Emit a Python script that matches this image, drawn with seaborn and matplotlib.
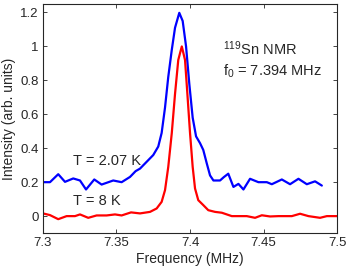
import numpy as np
import pandas as pd
import matplotlib
matplotlib.use("Agg")
import matplotlib.pyplot as plt
import seaborn as sns

freq_207K = [7.3000, 7.3048, 7.3104, 7.3150, 7.3206, 7.3252, 7.3293, 7.3349, 7.3399,
             7.3478, 7.3535, 7.3592, 7.3630, 7.3660, 7.3705, 7.3750, 7.3784, 7.3807,
             7.3830, 7.3852, 7.3876, 7.3898, 7.3927, 7.3950, 7.3973, 7.3995, 7.4018,
             7.4041, 7.4068, 7.4090, 7.4114, 7.4136, 7.4159, 7.4204, 7.4230, 7.4260,
             7.4295, 7.4329, 7.4363, 7.4408, 7.4465, 7.4522, 7.4556, 7.4624, 7.4680,
             7.4737, 7.4794, 7.4850, 7.4896]
int_207K = [0.20, 0.20, 0.247, 0.202, 0.222, 0.21, 0.157, 0.216, 0.186,
            0.21, 0.20, 0.231, 0.265, 0.28, 0.32, 0.36, 0.41, 0.49,
            0.64, 0.82, 0.98, 1.11, 1.198, 1.15, 1.00, 0.78, 0.58,
            0.47, 0.43, 0.39, 0.31, 0.24, 0.21, 0.21, 0.23, 0.25,
            0.172, 0.19, 0.157, 0.22, 0.20, 0.20, 0.188, 0.216, 0.188,
            0.22, 0.188, 0.205, 0.18]

freq_8K = [7.3000, 7.3048, 7.3104, 7.3161, 7.3218, 7.3252, 7.3308, 7.3365, 7.3433,
           7.3490, 7.3535, 7.3599, 7.3660, 7.3728, 7.3773, 7.3807, 7.3830, 7.3852,
           7.3876, 7.3898, 7.3920, 7.3944, 7.3966, 7.3982, 7.4000, 7.4018, 7.4034,
           7.4056, 7.4090, 7.4124, 7.4170, 7.4216, 7.4284, 7.4329, 7.4386, 7.4442,
           7.4488, 7.4544, 7.4601, 7.4692, 7.4748, 7.4805, 7.4884, 7.4930, 7.5000]
int_8K = [0.016, 0.006, -0.018, 0.0, 0.0, 0.01, -0.01, 0.004, 0.004,
          0.01, 0.004, 0.022, 0.016, 0.025, 0.045, 0.084, 0.153, 0.29,
          0.49, 0.72, 0.92, 1.0, 0.92, 0.72, 0.49, 0.29, 0.163,
          0.094, 0.065, 0.035, 0.025, 0.02, 0.0, 0.0, 0.0, -0.01,
          0.005, -0.002, 0.0, 0.0, 0.014, 0.0, -0.01, 0.0, 0.0]

xticks = [7.3, 7.35, 7.4, 7.45, 7.5]
xticklabels = ["7.3", "7.35", "7.4", "7.45", "7.5"]
yticks = [0, 0.2, 0.4, 0.6, 0.8, 1.0, 1.2]
yticklabels = ["0", "0.2", "0.4", "0.6", "0.8", "1", "1.2"]

sns.set_style("ticks")
plt.rcParams['font.family'] = ['Liberation Sans', 'DejaVu Sans']
plt.rcParams['mathtext.fontset'] = 'custom'
plt.rcParams['mathtext.rm'] = 'Liberation Sans'
plt.rcParams['mathtext.default'] = 'regular'
plt.rcParams['xtick.direction'] = 'in'
plt.rcParams['ytick.direction'] = 'in'

fig = plt.figure(figsize=(3.49, 2.67), dpi=100)
ax = fig.add_axes([0.123, 0.127, 0.843, 0.858])

df_b = pd.DataFrame({"f": freq_207K, "I": int_207K})
df_r = pd.DataFrame({"f": freq_8K, "I": int_8K})
sns.lineplot(data=df_b, x="f", y="I", ax=ax, color="#0000ff", lw=1.6, sort=False)
sns.lineplot(data=df_r, x="f", y="I", ax=ax, color="#ff0000", lw=1.6, sort=False)

ax.set_xlim(7.3, 7.5)
ax.set_ylim(-0.1, 1.25)
ax.set_xticks(xticks)
ax.set_xticklabels(xticklabels, fontsize=9.5)
ax.set_yticks(yticks)
ax.set_yticklabels(yticklabels, fontsize=9.5)
ax.tick_params(top=True, right=True, length=3, width=0.6, pad=3)
for s in ax.spines.values():
    s.set_linewidth(0.8)
ax.set_xlabel("Frequency (MHz)", fontsize=10, labelpad=2)
ax.set_ylabel("Intensity (arb. units)", fontsize=10, labelpad=3)

ax.text(7.3205, 0.30, "T = 2.07 K", fontsize=10.5)
ax.text(7.3205, 0.065, "T = 8 K", fontsize=10.5)
ax.text(7.4225, 0.95, r"$^{119}$Sn NMR", fontsize=10.5)
ax.text(7.4225, 0.83, r"f$_0$ = 7.394 MHz", fontsize=10.5)

fig.savefig("out.png", dpi=100)
